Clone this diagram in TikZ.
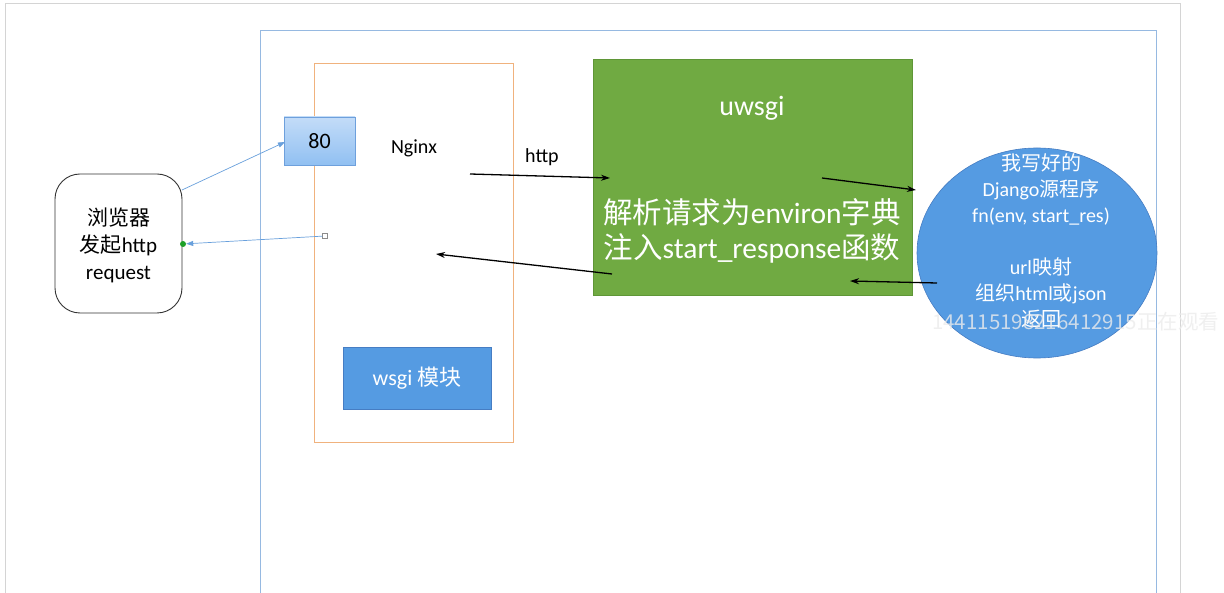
\documentclass[tikz,border=0pt]{standalone}
\usepackage{fontspec}
\setmainfont{Carlito}
\newfontfamily\cjk{Noto Sans CJK SC}
\usetikzlibrary{shapes.geometric,arrows.meta}
\definecolor{pageframe}{RGB}{212,212,212}
\definecolor{outerframe}{RGB}{150,185,225}
\definecolor{orangeframe}{RGB}{240,178,125}
\definecolor{uwsgigreen}{RGB}{112,170,66}
\definecolor{uwsgiborder}{RGB}{95,150,55}
\definecolor{midblue}{RGB}{85,155,226}
\definecolor{darkblue}{RGB}{70,125,195}
\definecolor{porttop}{RGB}{195,220,248}
\definecolor{portbot}{RGB}{145,192,242}
\definecolor{portborder}{RGB}{110,160,220}
\definecolor{arrowblue}{RGB}{105,160,220}
\definecolor{dotgreen}{RGB}{30,160,40}
\definecolor{wmark}{RGB}{236,236,236}
\newcommand\myfs[2]{\fontsize{#1}{#2}\selectfont}
\tikzset{
  orangebox/.style={draw=orangeframe, line width=0.9pt, inner sep=0pt},
  portbox/.style={draw=portborder, line width=0.8pt, top color=porttop, bottom color=portbot, inner sep=0pt, font=\myfs{22}{26}},
  browserbox/.style={draw=black!80, line width=0.9pt, rounded corners=25pt, fill=white, inner sep=0pt},
  greenbox/.style={draw=uwsgiborder, line width=0.6pt, fill=uwsgigreen, inner sep=0pt},
  djangoshape/.style={ellipse, draw=darkblue, line width=0.6pt, fill=midblue, inner sep=0pt},
  wsgibox/.style={draw=darkblue, line width=0.8pt, fill=midblue, inner sep=0pt, text=white, font=\myfs{22}{26}},
  whitetext/.style={text=white, align=center, inner sep=0pt},
  blackarrow/.style={-{Stealth[length=9pt,width=6pt]}, line width=1.3pt, black},
  bluearrow/.style={-{Triangle[length=7pt,width=5pt]}, line width=0.7pt, arrowblue},
}
\begin{document}
\begin{tikzpicture}[x=1pt,y=-1pt]
\useasboundingbox (0,0) rectangle (1224,593);
\fill[white] (0,0) rectangle (1224,593);
% frames
\draw[pageframe, line width=1pt] (5.5,593) -- (5.5,3.5) -- (1180,3.5) -- (1180,593);
\draw[outerframe, line width=1pt] (260.5,593) -- (260.5,30.5) -- (1156.5,30.5) -- (1156.5,593);
\node[orangebox, minimum width=199pt, minimum height=379pt] (nginxbox) at (413.5,252.5) {};
\node[inner sep=0pt, font=\myfs{20}{24}] (nginx) at (414,148) {Nginx};
% port
\node[portbox, minimum width=71pt, minimum height=48pt] (port) at (319.5,141) {80};
% browser
\node[browserbox, minimum width=127pt, minimum height=139pt] (browser) at (118.5,243.5) {};
\node[inner sep=0pt, align=center, font=\myfs{21}{27}] (browsertext) at (118.5,245) {{\cjk 浏览器}\\{\cjk 发起}http\\request};
% uwsgi
\node[greenbox, minimum width=319pt, minimum height=236pt] (uwsgibox) at (752.5,177) {};
\node[whitetext, font=\myfs{28}{32}] (uwsgititle) at (752,108) {uwsgi};
\node[whitetext, font=\myfs{29.5}{35}] (uwsgitext) at (752,231) {{\cjk 解析请求为}environ{\cjk 字典}\\{\cjk 注入}start\_response{\cjk 函数}};
% django
\node[djangoshape, minimum width=240pt, minimum height=210pt] (django) at (1037,253) {};
\node[whitetext, font=\myfs{20}{26}] (djangotext) at (1041,241) {{\cjk 我写好的}\\Django{\cjk 源程序}\\fn(env, start\_res)\\[26pt]url{\cjk 映射}\\{\cjk 组织}html{\cjk 或}json\\{\cjk 返回}};
% wsgi module
\node[wsgibox, minimum width=148pt, minimum height=62pt] (wsgi) at (417,378) {wsgi {\cjk 模块}};
% connectors
\coordinate (h1) at (470,174);
\coordinate (h2) at (610,178);
\draw[blackarrow] (h1) -- (h2);
\node[inner sep=0pt, font=\myfs{20}{24}] (httplabel) at (542,157) {http};
\coordinate (d1) at (822,178);
\coordinate (d2) at (916,190);
\draw[blackarrow] (d1) -- (d2);
\coordinate (r1) at (937,283);
\coordinate (r2) at (850,281);
\draw[blackarrow] (r1) -- (r2);
\coordinate (r3) at (612,274);
\coordinate (r4) at (436,254);
\draw[blackarrow] (r3) -- (r4);
\coordinate (b1) at (182,190);
\coordinate (b2) at (285,142);
\draw[bluearrow] (b1) -- (b2);
\node[draw=black!45, fill=white, line width=0.5pt, minimum size=5pt, inner sep=0pt] (sq) at (325,236) {};
\node[circle, fill=dotgreen, minimum size=6pt, inner sep=0pt] (dot) at (183,244) {};
\draw[bluearrow] (sq) -- (dot);
% watermark
\node[anchor=west, inner sep=0pt, text=wmark, opacity=0.8, font=\cjk\myfs{20.5}{24}] (watermark) at (932,322) {144115198216412915正在观看};
\end{tikzpicture}
\end{document}
